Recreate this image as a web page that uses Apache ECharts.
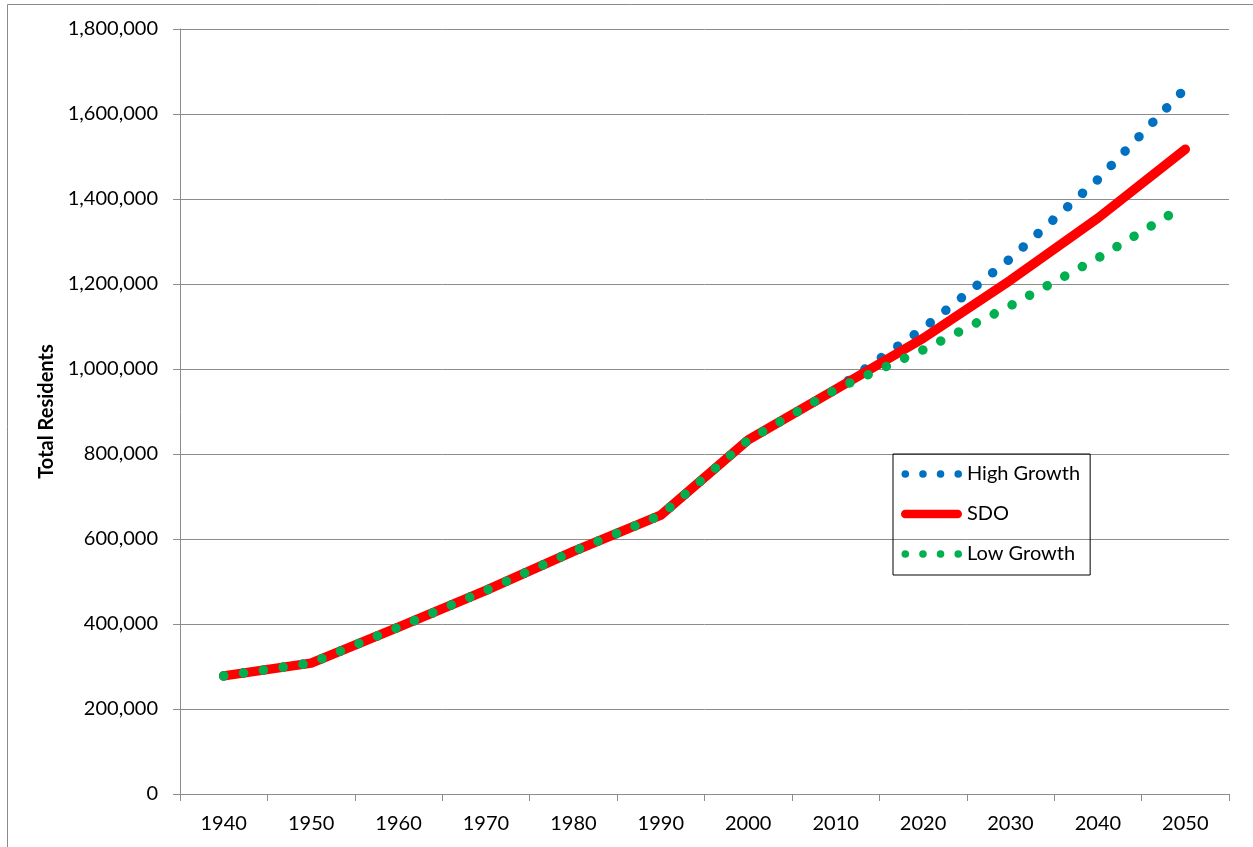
<!DOCTYPE html>
<html>
<head>
<meta charset="utf-8">
<title>Total Residents, 1940–2050</title>
<script src="https://cdn.jsdelivr.net/npm/echarts@6/dist/echarts.min.js"></script>
<style>
  html, body { margin: 0; padding: 0; background: #ffffff; }
  #chart { width: 1253px; height: 847px; }
</style>
</head>
<body>
<div id="chart"></div>
<script>
// Decade years on the horizontal axis
const years = [1940, 1950, 1960, 1970, 1980, 1990, 2000, 2010, 2020, 2030, 2040, 2050];

// Residents per scenario (history shared up to 2010)
const highGrowth = [278000, 308000, 392500, 479000, 571000, 656000, 833000, 952000, 1095000, 1260000, 1446000, 1660000];
const sdo        = [278000, 308000, 392500, 479000, 571000, 656000, 833000, 952000, 1072000, 1209000, 1355000, 1517000];
const lowGrowth  = [278000, 308000, 392500, 479000, 571000, 656000, 833000, 952000, 1045000, 1149000, 1261000, 1385000];

const seriesNames = ['High Growth', 'SDO', 'Low Growth'];
const yTicks = { min: 0, max: 1800000, step: 200000 };

const FONT = 'Lato';
const FONT_SIZE = 20;
const GRID_GRAY = '#8c8c8c';

const pairs = (vals) => years.map((y, i) => [y, vals[i]]);

// Legend glyphs: four round dots, or a thick rounded bar (61 x 9 box)
const dot = (cx) => `M${cx - 3.8} 4.5 a3.8 3.8 0 1 0 7.6 0 a3.8 3.8 0 1 0 -7.6 0 Z`;
const DOTS_ICON = 'path://M0 0 M61 9 ' + [4.3, 22, 39.6, 57.3].map(dot).join(' ');
const BAR_ICON = 'path://M0 0 M61 9 M4.25 0.25 H56.75 A4.25 4.25 0 0 1 56.75 8.75 H4.25 A4.25 4.25 0 0 1 4.25 0.25 Z';

const dotted = (color) => ({
  color: color,
  width: 9.5,
  type: [0.1, 19.9],
  cap: 'round',
  join: 'round'
});

const chart = echarts.init(document.getElementById('chart'), null, { renderer: 'canvas' });

chart.setOption({
  animation: false,
  backgroundColor: '#ffffff',
  textStyle: { fontFamily: FONT, color: '#000000' },
  graphic: [{
    type: 'rect',
    silent: true,
    shape: { x: 7.5, y: 4.5, width: 1400, height: 1000 },
    style: { fill: 'none', stroke: '#8a8a8a', lineWidth: 1 }
  }],
  grid: { left: 180, right: 24, top: 29, bottom: 53 },
  legend: {
    orient: 'vertical',
    left: 893,
    top: 454,
    padding: [10, 10, 11, 8],
    itemGap: 20,
    itemWidth: 61,
    itemHeight: 9,
    borderColor: '#000000',
    borderWidth: 1,
    selectedMode: false,
    itemStyle: { borderWidth: 0 },
    textStyle: { fontFamily: FONT, fontSize: FONT_SIZE, lineHeight: 20, color: '#000000' },
    data: [
      { name: seriesNames[0], icon: DOTS_ICON },
      { name: seriesNames[1], icon: BAR_ICON },
      { name: seriesNames[2], icon: DOTS_ICON }
    ]
  },
  xAxis: [{
    // tick marks between decades
    type: 'value',
    min: 1935,
    max: 2055,
    interval: 10,
    axisLine: { show: true, lineStyle: { color: GRID_GRAY, width: 1 } },
    axisTick: { show: true, length: 7, lineStyle: { color: GRID_GRAY } },
    axisLabel: { show: false },
    splitLine: { show: false }
  }, {
    // decade labels centred between the tick marks
    type: 'value',
    min: 1935,
    max: 2055,
    interval: 5,
    position: 'bottom',
    axisLine: { show: false },
    axisTick: { show: false },
    splitLine: { show: false },
    axisLabel: {
      margin: 20,
      fontFamily: FONT,
      fontSize: FONT_SIZE,
      color: '#000000',
      formatter: (v) => (v % 10 === 0 ? String(v) : '')
    }
  }],
  yAxis: {
    type: 'value',
    min: yTicks.min,
    max: yTicks.max,
    interval: yTicks.step,
    name: 'Total Residents',
    nameLocation: 'middle',
    nameRotate: 90,
    nameGap: 114,
    nameTextStyle: { fontFamily: FONT, fontSize: FONT_SIZE, fontWeight: 'bold', color: '#000000' },
    axisLine: { show: true, lineStyle: { color: GRID_GRAY, width: 1 } },
    axisTick: { show: true, length: 7, lineStyle: { color: GRID_GRAY } },
    axisLabel: {
      margin: 22,
      fontFamily: FONT,
      fontSize: FONT_SIZE,
      color: '#000000',
      formatter: (v) => v.toLocaleString('en-US')
    },
    splitLine: { show: true, lineStyle: { color: GRID_GRAY, width: 1 } }
  },
  series: [{
    name: seriesNames[0],
    type: 'line',
    xAxisIndex: 0,
    data: pairs(highGrowth),
    symbol: 'none',
    color: '#0070C0',
    lineStyle: dotted('#0070C0')
  }, {
    name: seriesNames[1],
    type: 'line',
    xAxisIndex: 0,
    data: pairs(sdo),
    symbol: 'none',
    color: '#FF0000',
    lineStyle: { color: '#FF0000', width: 9.5, cap: 'round', join: 'round' }
  }, {
    name: seriesNames[2],
    type: 'line',
    xAxisIndex: 0,
    data: pairs(lowGrowth),
    symbol: 'none',
    color: '#00B050',
    lineStyle: dotted('#00B050')
  }]
});
</script>
</body>
</html>
